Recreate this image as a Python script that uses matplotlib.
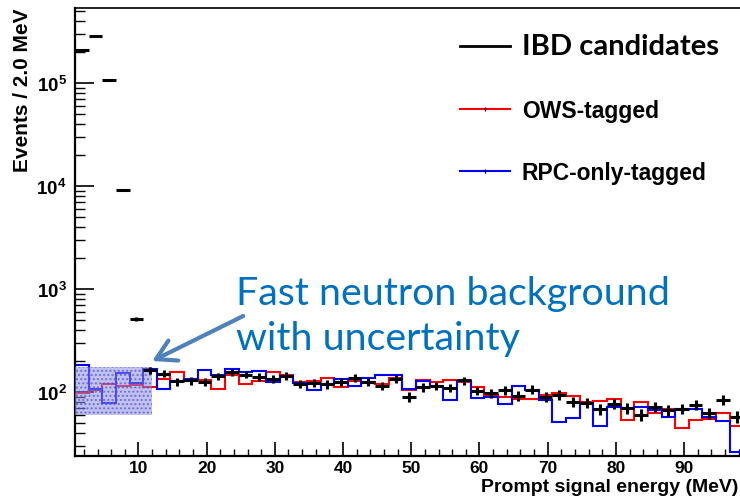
import matplotlib
matplotlib.use("Agg")
import matplotlib.pyplot as plt
from matplotlib.lines import Line2D
from matplotlib.patches import Rectangle
from matplotlib.ticker import MultipleLocator, LogLocator, FuncFormatter
import numpy as np

plt.rcParams["font.family"] = ["Liberation Sans", "DejaVu Sans"]
plt.rcParams["mathtext.fontset"] = "custom"
plt.rcParams["mathtext.rm"] = "Liberation Sans:bold"
plt.rcParams["mathtext.bf"] = "Liberation Sans:bold"
plt.rcParams["mathtext.it"] = "Liberation Sans:bold"
plt.rcParams["hatch.linewidth"] = 1.0

# binning of the prompt energy spectrum (MeV)
E_MIN = 0.7
BIN_WIDTH = 2.0

# IBD candidates, events per bin
ibd = [2.07e5, 2.89e5, 1.06e5, 9250, 517, 163, 151, 127, 130, 126,
       142, 157, 148, 141, 135, 144, 120, 124, 119, 126,
       137, 126, 116, 135, 90, 111, 115, 110, 130, 103,
       98, 104, 92.5, 106, 90, 94.5, 80, 79, 68, 77,
       70, 60.5, 72, 66.5, 69, 75.6, 63, 84.6, 57.4]

# OWS-tagged spectrum (scaled)
ows = [98, 104, 121, 114, 118, 113, 133, 157, 130, 130,
       108, 148, 121, 127, 157, 146, 126, 127, 137, 112,
       128, 126, 121, 137, 104, 130, 126, 130, 126, 112,
       93, 90, 86.5, 86.5, 94.5, 98, 92, 80.3, 82, 85,
       53.3, 80.3, 63.2, 69, 44.9, 54.1, 55.3, 63.2, 47]

# RPC-only-tagged spectrum (scaled)
rpc = [185, 108, 79, 155, 124, 169, 108, 128, 135, 163,
       146, 169, 157, 160, 126, 144, 124, 104, 121, 135,
       116, 137, 148, 148, 108, 127, 116, 83, 127, 88,
       90, 77, 116, 105, 83, 51, 56.5, 79, 47, 72,
       70, 72, 66.5, 57.4, 69, 69, 57.4, 52, 26.3]

# fast neutron background band extrapolated below 12 MeV
fn_range = (0.7, 12.0)
fn_band = (60.5, 177.0)

edges = E_MIN + BIN_WIDTH * np.arange(len(ibd) + 1)
centers = 0.5 * (edges[:-1] + edges[1:])
ibd_arr = np.asarray(ibd)

fig = plt.figure(figsize=(7.4, 5.02), dpi=100)
ax = fig.add_axes([75 / 740, 45 / 502, 665 / 740, 448 / 502])

ax.stairs(ows, edges, color="red", lw=1.5, baseline=None, zorder=2)
ax.stairs(rpc, edges, color="blue", lw=1.5, baseline=None, zorder=2)
ax.errorbar(centers, ibd_arr, xerr=BIN_WIDTH / 2, yerr=np.sqrt(ibd_arr),
            fmt="none", ecolor="black", elinewidth=2.2, capsize=0, zorder=4)

# dotted-looking band: tinted fill plus a dot hatch
ax.add_patch(Rectangle((fn_range[0], fn_band[0]), fn_range[1] - fn_range[0],
                       fn_band[1] - fn_band[0], facecolor="#9090e6",
                       edgecolor="none", alpha=0.55, zorder=3))
ax.add_patch(Rectangle((fn_range[0], fn_band[0]), fn_range[1] - fn_range[0],
                       fn_band[1] - fn_band[0], facecolor="none",
                       edgecolor="#4040d8", hatch="....", lw=0, alpha=0.6, zorder=3))

ax.set_yscale("log")
ax.set_xlim(0.7, 98.2)
ax.set_ylim(24, 5.35e5)

ax.xaxis.set_major_locator(MultipleLocator(10))
ax.xaxis.set_minor_locator(MultipleLocator(2))
ax.yaxis.set_major_locator(LogLocator(base=10))
ax.yaxis.set_minor_locator(LogLocator(base=10, subs=np.arange(2, 10)))
ax.yaxis.set_major_formatter(FuncFormatter(lambda v, p: r"$\mathbf{10^{%d}}$" % round(np.log10(v))))

ax.tick_params(axis="x", which="major", direction="in", length=10, width=1.2,
               labelsize=12.5, pad=3, top=False)
ax.tick_params(axis="x", which="minor", direction="in", length=5, width=1.0, top=False)
ax.tick_params(axis="y", which="major", direction="in", length=14, width=1.2,
               labelsize=13.5, pad=6, right=False)
ax.tick_params(axis="y", which="minor", direction="in", length=7, width=1.0, right=False)
for lab in ax.get_xticklabels():
    lab.set_fontweight("bold")

ax.spines["right"].set_visible(False)
ax.spines["left"].set_linewidth(1.6)
ax.spines["bottom"].set_linewidth(1.6)
ax.spines["top"].set_linewidth(1.2)

ax.set_ylabel("Events / 2.0 MeV", fontsize=15, fontweight="bold", loc="top")
ax.yaxis.set_label_coords(-0.065, 1.0)
ax.set_xlabel("Prompt signal energy (MeV)", fontsize=14, fontweight="bold", loc="right")
ax.xaxis.set_label_coords(0.997, -0.05)

handles = [Line2D([], [], color="black", lw=2),
           Line2D([], [], color="red", lw=1.5, marker="|", ms=3, mec="black", mew=1),
           Line2D([], [], color="blue", lw=1.5, marker="|", ms=3, mec="black", mew=1)]
leg = ax.legend(handles, ["IBD candidates", "OWS-tagged", "RPC-only-tagged"],
                loc="upper left", bbox_to_anchor=(0.548, 0.99), frameon=False,
                fontsize=16.5, handlelength=2.2, handletextpad=0.5, labelspacing=1.72)
texts = leg.get_texts()
texts[0].set_fontfamily("Lato")
texts[0].set_fontsize(21)
for t in texts:
    t.set_fontweight("bold")

note_color = "#0070C0"
ax.text(0.242, 0.339, "Fast neutron background", transform=ax.transAxes,
        fontsize=28.4, family="Lato", color=note_color, va="baseline")
ax.text(0.242, 0.239, "with uncertainty", transform=ax.transAxes,
        fontsize=28.4, family="Lato", color=note_color, va="baseline")
ax.annotate("", xy=(0.116, 0.212), xytext=(0.253, 0.3125),
            xycoords="axes fraction", textcoords="axes fraction",
            arrowprops=dict(arrowstyle="->,head_length=0.7,head_width=0.4",
                            color="#4F81BD", lw=3, mutation_scale=20,
                            shrinkA=0, shrinkB=0))

fig.savefig("out.png", dpi=100)
